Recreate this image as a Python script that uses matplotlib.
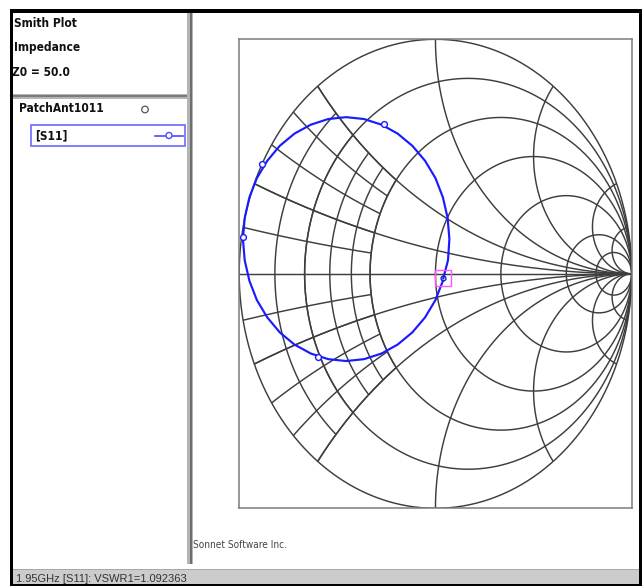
import numpy as np
import matplotlib
matplotlib.use("Agg")
import matplotlib.pyplot as plt
from matplotlib.patches import Rectangle, Circle
from matplotlib import font_manager

W, H, DPI = 642, 586, 100

# ---- data -------------------------------------------------------------
# S11 of the patch antenna (reflection coefficient, real / imaginary)
s11_re = [0.038, 0.000, -0.053, -0.118, -0.193, -0.275, -0.364, -0.455,
          -0.546, -0.635, -0.718, -0.793, -0.857, -0.910, -0.948, -0.972,
          -0.981, -0.972, -0.948, -0.910, -0.857, -0.793, -0.718, -0.635,
          -0.546, -0.455, -0.364, -0.275, -0.193, -0.118, -0.053, 0.000,
          0.038, 0.062, 0.071, 0.064, 0.040]
s11_im = [-0.030, -0.112, -0.186, -0.250, -0.302, -0.340, -0.364, -0.372,
          -0.364, -0.340, -0.302, -0.250, -0.186, -0.112, -0.030, 0.058,
          0.148, 0.238, 0.326, 0.408, 0.482, 0.546, 0.598, 0.636,
          0.660, 0.668, 0.660, 0.636, 0.598, 0.546, 0.482, 0.408,
          0.326, 0.238, 0.148, 0.058, -0.019]

# symbol positions on the curve
sym_re = [-0.596, -0.980, -0.882, -0.261]
sym_im = [-0.355, 0.157, 0.470, 0.638]

# marker readout
marker_freq = "1.95GHz"
marker_vswr = 1.092363
marker_angle_deg = -25.0

# Smith chart grid
full_r = [0.0, 0.2, 0.5, 1.0, 2.0, 5.0, 10.0]
full_x = [0.2, 0.5, 1.0, 2.0, 5.0, 10.0]
fine_r = [0.1, 0.2, 0.3, 0.4, 0.5]
fine_x = [0.1, 0.2, 0.3, 0.4, 0.5]
fine_limit = 0.5

z0_text = "Z0 = 50.0"
project = "PatchAnt1011"
trace_name = "[S11]"

# ---- helpers ----------------------------------------------------------
def gamma(z):
    return (z - 1.0) / (z + 1.0)

names = {f.name for f in font_manager.fontManager.ttflist}
cond = [f for f in font_manager.fontManager.ttflist
        if f.name == 'DejaVu Sans' and f.stretch == 'condensed']
if 'Liberation Sans Narrow' in names:
    NARROW = dict(family=['Liberation Sans Narrow', 'DejaVu Sans'])
elif cond:
    NARROW = dict(family=['DejaVu Sans'], fontstretch='condensed')
else:
    NARROW = dict(family=['Liberation Sans', 'DejaVu Sans'])
REGULAR = dict(family=['Liberation Sans', 'DejaVu Sans'])

fig = plt.figure(figsize=(W / DPI, H / DPI), dpi=DPI)
fig.patch.set_facecolor('white')

# ---- window frame (pixel coordinates) ---------------------------------
bg = fig.add_axes([0, 0, 1, 1])
bg.set_xlim(0, W)
bg.set_ylim(H, 0)
bg.axis('off')

def rect(x0, y0, x1, y1, color, z=1):
    bg.add_patch(Rectangle((x0, y0), x1 - x0, y1 - y0, facecolor=color,
                           edgecolor='none', zorder=z))

# status bar
rect(12, 569, 642, 584, '#cccccc')
rect(12, 569, 642, 570, '#a8a8a8')
# black outer border
rect(10, 8.5, 642, 12.5, '#000000', 3)
rect(10, 8.5, 12.5, 584, '#000000', 3)
rect(639, 8.5, 642, 586, '#000000', 3)
rect(10, 584, 642, 586, '#000000', 3)
# splitter between the panels
rect(187, 12.5, 193, 564, '#b4b4b4')
rect(189.5, 12.5, 192, 564, '#6e6e6e')
# separator in the left panel
rect(12.5, 93.5, 187, 98.5, '#b4b4b4')
rect(12.5, 95, 187, 97, '#7a7a7a')

# left panel texts
head = dict(weight='bold', fontsize=8.6, va='center', ha='left',
            color='#111111', **NARROW)
bg.text(14, 23.5, "Smith Plot", **head)
bg.text(14, 48, "Impedance", **head)
bg.text(12.5, 72, z0_text, **head)
bg.text(19, 109, project, **head)
bg.add_patch(Circle((145, 109.5), 3.3, facecolor='none', edgecolor='#555555',
                    lw=0.9, zorder=4))
# selected trace entry
bg.add_patch(Rectangle((31, 124.5), 154, 21.5, facecolor='white',
                       edgecolor='#6a6aff', lw=1.2, zorder=4))
bg.text(35, 135.5, trace_name, zorder=5, **head)
bg.plot([155, 183], [135.5, 135.5], color='#4a4aff', lw=1.2, zorder=5)
bg.add_patch(Circle((169, 135.5), 3.0, facecolor='white', edgecolor='#4a4aff',
                    lw=1.0, zorder=6))

bg.text(193, 545, "Sonnet Software Inc.", fontsize=7.2, va='center',
        ha='left', color='#444444', **NARROW)

vswr_label = f"{marker_freq} [S11]: VSWR1={marker_vswr:.6f}"
bg.text(15.5, 579.5, vswr_label, fontsize=8.0, va='center', ha='left',
        color='#333333', zorder=2, **REGULAR)

# ---- Smith chart ------------------------------------------------------
bx0, bx1, by0, by1 = 239.2, 631.7, 39.3, 508.3
ax = fig.add_axes([bx0 / W, (H - by1) / H, (bx1 - bx0) / W, (by1 - by0) / H])
ax.set_xlim(-1, 1)
ax.set_ylim(-1, 1)
ax.set_aspect('auto')
ax.set_xticks([])
ax.set_yticks([])
for s in ax.spines.values():
    s.set_color('#7c7c7c')
    s.set_linewidth(1.1)

GRID = dict(color='#3e3e3e', lw=1.05, solid_capstyle='butt', zorder=1)

# full constant-resistance circles
t = np.linspace(0, 2 * np.pi, 721)
for r in full_r:
    c, rad = r / (1 + r), 1 / (1 + r)
    ax.plot(c + rad * np.cos(t), rad * np.sin(t), **GRID)

# full constant-reactance arcs
rr = np.concatenate([np.tan(np.linspace(0, np.pi / 2 * 0.9995, 800)), [1e6]])
for x in full_x:
    for sgn in (1, -1):
        g = gamma(rr + 1j * sgn * x)
        ax.plot(g.real, g.imag, **GRID)

# fine grid near the short-circuit side
xs = np.linspace(-fine_limit, fine_limit, 200)
for r in fine_r:
    g = gamma(r + 1j * xs)
    ax.plot(g.real, g.imag, **GRID)
rs = np.linspace(0, fine_limit, 200)
for x in fine_x:
    for sgn in (1, -1):
        g = gamma(rs + 1j * sgn * x)
        ax.plot(g.real, g.imag, **GRID)

# real axis
ax.plot([-1, 1], [0, 0], **GRID)

# S11 trace
ax.plot(s11_re, s11_im, color='#1a1aff', lw=1.55, zorder=3,
        solid_joinstyle='round')
ax.plot(sym_re, sym_im, ls='none', marker='o', ms=4.2, mfc='white',
        mec='#1a1aff', mew=1.0, zorder=4)

# marker from the VSWR readout
mag = (marker_vswr - 1) / (marker_vswr + 1)
mg = mag * np.exp(1j * np.deg2rad(marker_angle_deg))
ax.plot([mg.real], [mg.imag], ls='none', marker='o', ms=3.5, mfc='none',
        mec='#2020c0', mew=1.0, zorder=5)
ax.plot([mg.real], [mg.imag], ls='none', marker='s', ms=11, mfc='none',
        mec='#ff55ff', mew=1.0, zorder=5)

fig.savefig('out.png', dpi=DPI, facecolor='white')
